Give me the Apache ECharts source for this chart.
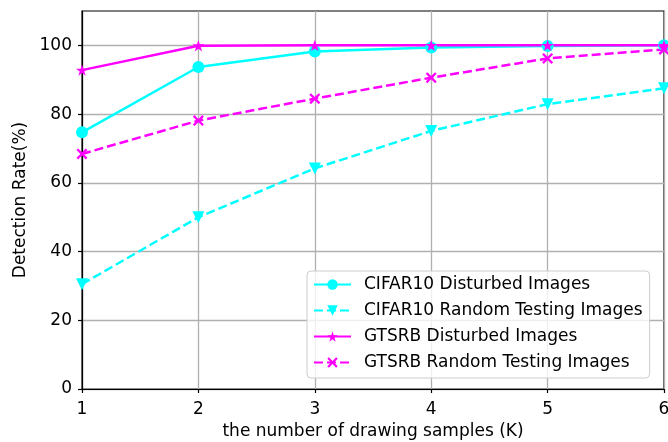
<!DOCTYPE html>
<html>
<head>
<meta charset="utf-8">
<script src="https://cdn.jsdelivr.net/npm/echarts@6/dist/echarts.min.js"></script>
<style>
  html, body { margin: 0; padding: 0; background: #fff; }
  #chart { width: 668px; height: 442px; }
</style>
</head>
<body>
<div id="chart"></div>
<script>
// Sample counts (K) on the x axis
const samples = [1, 2, 3, 4, 5, 6];
const yTicks = [0, 20, 40, 60, 80, 100];

// Detection rates (%)
const cifarDisturbed = [74.7, 93.7, 98.2, 99.4, 99.8, 100];
const cifarRandom = [30.5, 50.0, 64.2, 75.1, 82.9, 87.5];
const gtsrbDisturbed = [92.8, 99.9, 100, 100, 100, 100];
const gtsrbRandom = [68.4, 78.1, 84.5, 90.6, 96.2, 98.8];

const seriesNames = [
  'CIFAR10 Disturbed Images',
  'CIFAR10 Random Testing Images',
  'GTSRB Disturbed Images',
  'GTSRB Random Testing Images'
];

const CYAN = '#00ffff';
const MAGENTA = '#ff00ff';
const FONT = 'DejaVu Sans';

const STAR = 'path://M50,0L61.23,34.55L97.55,34.55L68.17,55.9L79.39,90.45L50,69.1L20.61,90.45L31.83,55.9L2.45,34.55L38.77,34.55Z';
const CROSS = 'path://M0,1.5L1.5,0L5,3.5L8.5,0L10,1.5L6.5,5L10,8.5L8.5,10L5,6.5L1.5,10L0,8.5L3.5,5Z';

function pairs(vals) {
  return samples.map((x, i) => [x, vals[i]]);
}

function lineSeries(name, vals, color, dashed, symbol, size, rotate) {
  return {
    name: name,
    type: 'line',
    data: pairs(vals),
    symbol: symbol,
    symbolSize: size,
    symbolRotate: rotate || 0,
    symbolKeepAspect: true,
    showAllSymbol: true,
    clip: true,
    lineStyle: { color: color, width: 2.5, type: dashed ? [9, 4] : 'solid' },
    itemStyle: { color: color },
    emphasis: { disabled: true },
    animation: false
  };
}

const chart = echarts.init(document.getElementById('chart'), null, { renderer: 'canvas' });

chart.setOption({
  backgroundColor: '#ffffff',
  animation: false,
  textStyle: { fontFamily: FONT },
  grid: {
    left: 82, right: 4, top: 11, bottom: 53,
    outerBoundsMode: 'none',
    containLabel: false,
    show: true, borderColor: '#000', borderWidth: 1.2, backgroundColor: 'transparent'
  },
  xAxis: {
    type: 'value',
    min: 1, max: 6, interval: 1,
    name: 'the number of drawing samples (K)',
    nameLocation: 'middle',
    nameGap: 34,
    nameTextStyle: { fontFamily: FONT, fontSize: 17, color: '#000' },
    axisLine: { show: true, lineStyle: { color: '#000', width: 1.2 } },
    axisTick: { show: true, inside: false, length: 4, lineStyle: { color: '#000', width: 1.2 } },
    axisLabel: { fontFamily: FONT, fontSize: 17, color: '#000', margin: 12 },
    splitLine: { show: true, lineStyle: { color: '#b0b0b0', width: 1.3 } }
  },
  yAxis: {
    type: 'value',
    min: 0, max: 110, interval: 20,
    name: 'Detection Rate(%)',
    nameLocation: 'middle',
    nameGap: 53,
    nameTextStyle: { fontFamily: FONT, fontSize: 17, color: '#000' },
    axisLine: { show: true, lineStyle: { color: '#000', width: 1.2 } },
    axisTick: { show: true, inside: false, length: 4, customValues: yTicks, lineStyle: { color: '#000', width: 1.2 } },
    axisLabel: { fontFamily: FONT, fontSize: 17, color: '#000', margin: 10, customValues: yTicks },
    splitLine: { show: true, lineStyle: { color: '#b0b0b0', width: 1.3 } }
  },
  legend: {
    orient: 'vertical',
    left: 307, top: 271,
    padding: [5, 7, 7, 6],
    itemWidth: 37,
    itemHeight: 13,
    itemGap: 9,
    backgroundColor: 'rgba(255,255,255,0.8)',
    borderColor: '#cccccc',
    borderWidth: 1,
    borderRadius: 4,
    selectedMode: false,
    textStyle: { fontFamily: FONT, fontSize: 17, lineHeight: 17, color: '#000', padding: [0, 0, 0, 8] },
    data: seriesNames
  },
  series: [
    lineSeries(seriesNames[0], cifarDisturbed, CYAN, false, 'circle', 12),
    lineSeries(seriesNames[1], cifarRandom, CYAN, true, 'triangle', 12, 180),
    lineSeries(seriesNames[2], gtsrbDisturbed, MAGENTA, false, STAR, 12),
    lineSeries(seriesNames[3], gtsrbRandom, MAGENTA, true, CROSS, 11)
  ]
});
</script>
</body>
</html>
